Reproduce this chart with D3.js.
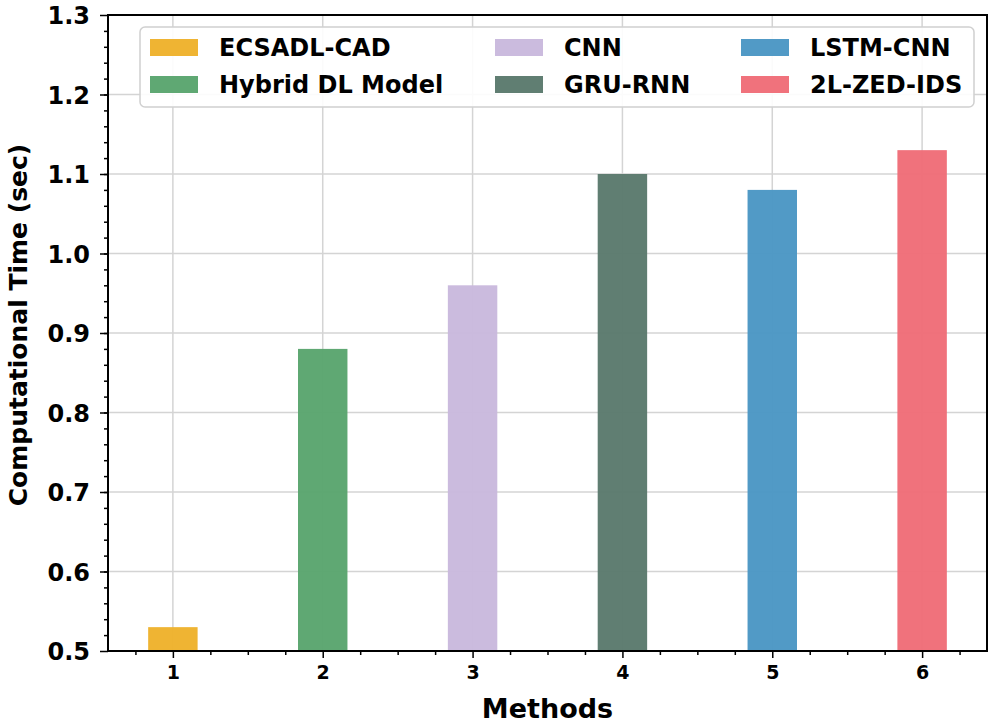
<!DOCTYPE html>
<html>
<head>
<meta charset="utf-8" />
<title>Computational Time</title>
<style>
body { margin: 0; background: #fff; }
svg { display: block; }
svg text { font-family: "DejaVu Sans", sans-serif; font-weight: bold; fill: #000; }
</style>
<script src="https://cdn.jsdelivr.net/npm/d3@7/dist/d3.min.js"></script>
</head>
<body>
<svg class="chart"></svg>
<script>

// data
var methods = ["ECSADL-CAD", "Hybrid DL Model", "CNN", "GRU-RNN", "LSTM-CNN", "2L-ZED-IDS"];
var positions = [1, 2, 3, 4, 5, 6];
var times = [0.53, 0.88, 0.96, 1.10, 1.08, 1.13];
var colors = ["#eeb22c", "#5aa56e", "#c9b9dd", "#5b7a6d", "#4b97c4", "#f06d78"];
var yTicks = [0.5, 0.6, 0.7, 0.8, 0.9, 1.0, 1.1, 1.2, 1.3];

var width = 995;
var height = 725;
// note: "top" is reserved on window, so use plot_* names
var plot_left = 108, plot_right = 987, plot_top = 15, plot_bottom = 651;
var barWidth = 0.33;

var svg = d3.select(".chart")
    .attr("width", width)
    .attr("height", height);

var x = d3.scaleLinear()
    .domain([0.567, 6.433])
    .range([plot_left, plot_right]);

var y = d3.scaleLinear()
    .domain([0.5, 1.3])
    .range([plot_bottom, plot_top]);

// grid lines
var grid = svg.append("g").attr("class", "grid");
grid.selectAll(".gx")
    .data(positions)
    .enter().append("line")
    .attr("x1", function(d){ return x(d); })
    .attr("x2", function(d){ return x(d); })
    .attr("y1", plot_top).attr("y2", plot_bottom)
    .attr("stroke", "#d4d4d4").attr("stroke-width", 1.5);
grid.selectAll(".gy")
    .data(yTicks)
    .enter().append("line")
    .attr("y1", function(d){ return y(d); })
    .attr("y2", function(d){ return y(d); })
    .attr("x1", plot_left).attr("x2", plot_right)
    .attr("stroke", "#d4d4d4").attr("stroke-width", 1.5);

// bars
svg.append("g").selectAll("rect")
    .data(times)
    .enter().append("rect")
    .attr("x", function(d, i){ return x(positions[i] - barWidth / 2); })
    .attr("width", function(){ return x(barWidth) - x(0); })
    .attr("y", function(d){ return y(d); })
    .attr("height", function(d){ return y(0.5) - y(d); })
    .attr("fill", function(d, i){ return colors[i]; })
    .attr("fill-opacity", 0.97);

// minor ticks
var xMinor = d3.range(0.75, 6.5, 0.25).filter(function(d){ return d % 1 !== 0; });
var yMinor = d3.range(0.52, 1.3, 0.02);

svg.append("g")
    .attr("transform", "translate(0," + plot_bottom + ")")
    .call(d3.axisBottom(x).tickValues(xMinor).tickSize(4).tickFormat(""))
    .call(function(g){ g.select(".domain").remove(); })
    .selectAll("line").attr("stroke-width", 1.5);

svg.append("g")
    .attr("transform", "translate(" + plot_left + ",0)")
    .call(d3.axisLeft(y).tickValues(yMinor).tickSize(4).tickFormat(""))
    .call(function(g){ g.select(".domain").remove(); })
    .selectAll("line").attr("stroke-width", 1.5);

// major ticks
var xAxis = svg.append("g")
    .attr("transform", "translate(0," + plot_bottom + ")")
    .call(d3.axisBottom(x).tickValues(positions).tickSize(7).tickPadding(8).tickFormat(d3.format("d")));
xAxis.select(".domain").remove();
xAxis.selectAll("line").attr("stroke-width", 1.5);
xAxis.selectAll("text").style("font-size", "19px");

var yAxis = svg.append("g")
    .attr("transform", "translate(" + plot_left + ",0)")
    .call(d3.axisLeft(y).tickValues(yTicks).tickSize(8).tickPadding(10).tickFormat(d3.format(".1f")));
yAxis.select(".domain").remove();
yAxis.selectAll("line").attr("stroke-width", 1.5);
yAxis.selectAll("text").style("font-size", "24px").attr("dy", "0.36em");

// frame
svg.append("rect")
    .attr("x", plot_left).attr("y", plot_top)
    .attr("width", plot_right - plot_left).attr("height", plot_bottom - plot_top)
    .attr("fill", "none").attr("stroke", "#000").attr("stroke-width", 2);

// axis labels
svg.append("text")
    .text("Methods")
    .attr("x", (plot_left + plot_right) / 2)
    .attr("y", 718)
    .attr("text-anchor", "middle")
    .style("font-size", "27px");

svg.append("text")
    .text("Computational Time (sec)")
    .attr("transform", "translate(27," + ((plot_top + plot_bottom) / 2 - 8) + ") rotate(-90)")
    .attr("text-anchor", "middle")
    .style("font-size", "25px");

// legend
var legend = svg.append("g").attr("class", "legend");
legend.append("rect")
    .attr("x", 140).attr("y", 27)
    .attr("width", 834).attr("height", 80)
    .attr("rx", 5)
    .attr("fill", "#fff").attr("fill-opacity", 0.9)
    .attr("stroke", "#d0d0d0").attr("stroke-width", 1.5);

var colX = [150, 495, 741];
var entry = legend.selectAll(".entry")
    .data(methods)
    .enter().append("g")
    .attr("class", "entry")
    .attr("transform", function(d, i){
      return "translate(" + colX[Math.floor(i / 2)] + "," + (39 + (i % 2) * 37) + ")";
    });

entry.append("rect")
    .attr("width", 48).attr("height", 17)
    .attr("fill", function(d, i){ return colors[i]; })
    .attr("fill-opacity", 0.97);

entry.append("text")
    .text(function(d){ return d; })
    .attr("x", 69)
    .attr("y", 17)
    .style("font-size", "24px");

</script>
</body>
</html>
